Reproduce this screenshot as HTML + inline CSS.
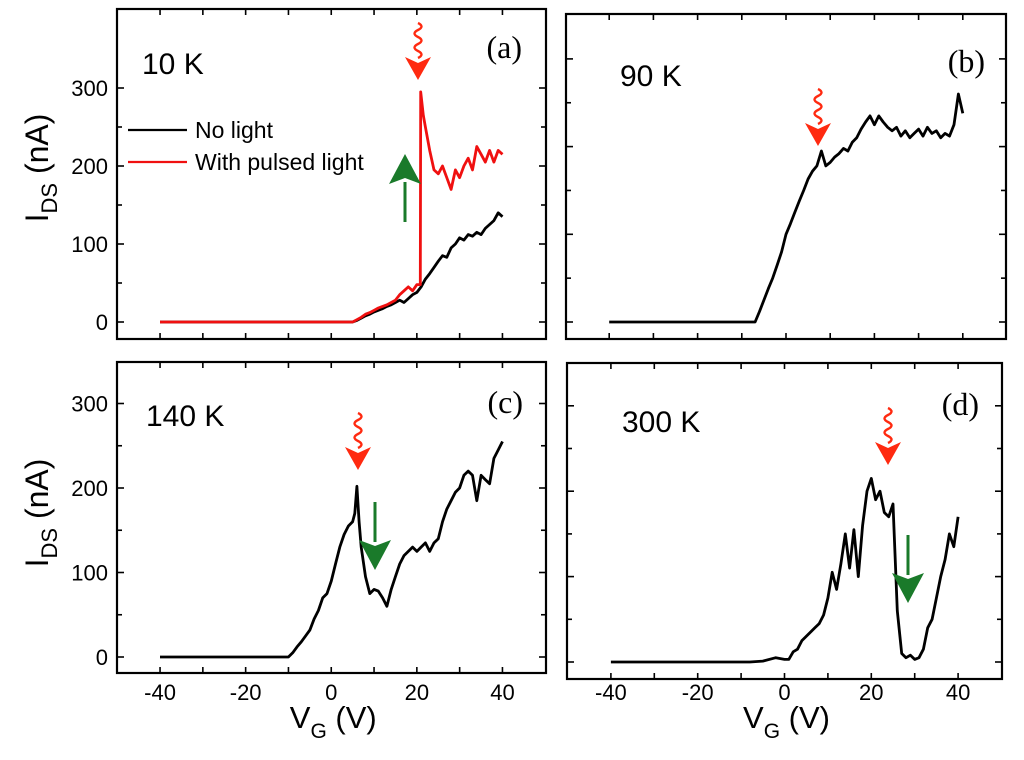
<!DOCTYPE html>
<html><head><meta charset="utf-8"><title>IDS vs VG</title>
<style>
html,body{margin:0;padding:0;background:#fff;}
svg{display:block;font-family:"Liberation Sans",Arial,sans-serif;}
.serif{font-family:"Liberation Serif","Times New Roman",serif;}
</style></head>
<body>
<svg id="fig" width="1024" height="760" viewBox="0 0 1024 760" xmlns="http://www.w3.org/2000/svg"></svg>
<script>
// ---- data (VG in V, IDS in nA) ----
const aDarkV = [-40,5,6,7,8,9,10,11,12,13,14,15,16,17,18,19,20,21,22,23,24,25,26,27,28,29,30,31,32,33,34,35,36,37,38,39,40];
const aDarkI = [0,0,2,5,8,10,13,15,17,20,22,25,28,25,30,35,38,45,55,62,70,78,85,83,95,100,108,105,112,110,115,112,120,125,130,140,135];
const aLightV = [-40,5,6,7,8,9,10,11,12,13,14,15,16,17,18,19,20,20.8,20.9,21.5,22,23,24,25,26,27,28,29,30,31,32,33,34,35,36,37,38,39,40];
const aLightI = [0,0,3,6,10,12,15,18,20,22,25,28,35,40,45,40,48,48,295,265,250,220,195,190,200,185,170,195,185,200,210,195,225,215,205,220,205,220,215];
const bV = [-40,-7,-6,-5,-4,-3,-2,-1,0,1,2,3,4,5,6,7,8,9,10,11,12,13,14,15,16,17,18,19,20,21,22,23,24,25,26,27,28,29,30,31,32,33,34,35,36,37,38,39,40];
const bI = [0,0,12,25,38,50,65,80,100,112,125,138,150,163,172,178,195,178,182,188,192,198,195,205,210,220,228,235,225,235,228,222,218,222,212,218,210,215,220,212,222,215,218,210,215,212,225,260,238];
const cV = [-40,-10,-9,-8,-7,-6,-5,-4,-3,-2,-1,0,1,2,3,4,5,5.5,6,6.5,7,8,9,10,11,12,13,14,15,16,17,18,19,20,21,22,23,24,25,26,27,28,29,30,31,32,33,34,35,36,37,38,39,40];
const cI = [0,0,5,12,18,25,32,45,55,70,75,90,110,130,145,155,160,170,202,160,130,95,75,80,78,70,60,80,95,110,120,125,130,125,130,135,125,135,140,160,175,185,195,200,215,220,215,185,215,210,205,235,245,255];
const dV = [-40,-8,-5,-2,0,1,2,3,4,5,6,7,8,9,10,11,12,13,14,15,16,17,18,19,20,21,22,23,24,25,26,27,28,29,30,31,32,33,34,35,36,37,38,39,40];
const dI = [0,0,1,5,3,3,12,15,25,30,35,40,45,55,75,105,85,115,150,110,155,100,160,200,215,190,200,175,170,185,60,10,5,8,3,5,15,40,50,75,100,120,150,135,170];
const xTickVals = [-40,-30,-20,-10,0,10,20,30,40];
const xLabelVals = [-40,-20,0,20,40];
const yMajor = [0,100,200,300];
const yMinor = [50,150,250];

const NS = "http://www.w3.org/2000/svg";
const svg = document.getElementById('fig');
function mk(tag, attrs, parent){
  const e = document.createElementNS(NS, tag);
  for (const k in attrs) e.setAttribute(k, attrs[k]);
  (parent||svg).appendChild(e);
  return e;
}
const panels = [
  {id:'a', L:117, R:546, T:9,   B:339, x0:331.25, xs:4.28,  y0:322, ys:0.78,  ylab:true,  xlab:false},
  {id:'b', L:566, R:1006, T:14, B:339, x0:786,    xs:4.42,  y0:322, ys:0.877, ylab:false, xlab:false},
  {id:'c', L:117, R:546, T:362, B:673, x0:331.25, xs:4.28,  y0:657, ys:0.845, ylab:true,  xlab:true},
  {id:'d', L:567, R:1002, T:363, B:679, x0:784.5, xs:4.34,  y0:662, ys:0.854, ylab:false, xlab:true}
];
function X(p,v){ return p.x0 + v*p.xs; }
function Y(p,i){ return p.y0 - i*p.ys; }

panels.forEach(p=>{
  const g = mk('g',{});
  
  
  const fr = mk('rect',{x:p.L,y:p.T,width:p.R-p.L,height:p.B-p.T,fill:'none',stroke:'#000','stroke-width':2.2},g);
  
  
  xTickVals.forEach(v=>{
    const x = X(p,v);
    const t1 = mk('line',{x1:x,x2:x,y1:p.B,y2:p.B-6,stroke:'#000','stroke-width':1.6},g);
    
    
    const t2 = mk('line',{x1:x,x2:x,y1:p.T,y2:p.T+6,stroke:'#000','stroke-width':1.6},g);
    
    
  });
  yMajor.concat(yMinor).forEach(i=>{
    const y = Y(p,i);
    if (y < p.T+2) return;
    const len = yMajor.includes(i) ? 7 : 5;
    const t1 = mk('line',{x1:p.L,x2:p.L+len,y1:y,y2:y,stroke:'#000','stroke-width':1.6},g);
    
    
    const t2 = mk('line',{x1:p.R,x2:p.R-len,y1:y,y2:y,stroke:'#000','stroke-width':1.6},g);
    
    
  });
  if (p.ylab){
    yMajor.forEach(i=>{
      const t = mk('text',{x:p.L-9,y:Y(p,i)+8,'text-anchor':'end','font-size':22},g);
      t.textContent = i;
      
      
    });
    const cy = (p.id==='a') ? 168 : 513;
    const yt = mk('text',{x:0,y:0,'text-anchor':'middle','font-size':32,transform:`translate(48,${cy}) rotate(-90)`},g);
    
    
    yt.innerHTML = 'I<tspan font-size="22" dy="9">DS</tspan><tspan dy="-9"> (nA)</tspan>';
  }
  if (p.xlab){
    xLabelVals.forEach(v=>{
      const t = mk('text',{x:X(p,v),y:700,'text-anchor':'middle','font-size':22},g);
      t.textContent = v;
      
      
    });
    const xt = mk('text',{x:X(p,0)+2,y:728,'text-anchor':'middle','font-size':31},g);
    
    
    xt.innerHTML = 'V<tspan font-size="21" dy="10">G</tspan><tspan dy="-10"> (V)</tspan>';
  }
});

function curve(p, vs, is, color, name){
  const d = vs.map((v,k)=>(k?'L':'M')+X(p,v).toFixed(1)+','+Y(p,is[k]).toFixed(1)).join(' ');
  const path = mk('path',{d:d,fill:'none',stroke:color,'stroke-width':2.8,'stroke-linejoin':'round'});
  
  
}
curve(panels[0], aDarkV, aDarkI, '#000', 'series-no-light-10k');
curve(panels[0], aLightV, aLightI, '#f01010', 'series-pulsed-light-10k');
curve(panels[1], bV, bI, '#000', 'series-90k');
curve(panels[2], cV, cI, '#000', 'series-140k');
curve(panels[3], dV, dI, '#000', 'series-300k');

function redArrow(x, y0, name){
  const g = mk('g',{});
  
  
  let d = `M${x},${y0}`;
  for (let k=0;k<5;k++){ d += ` q${k%2?-7:7},3.5 0,7`; }
  mk('path',{d:d,fill:'none',stroke:'#ff2a10','stroke-width':2.4},g);
  mk('path',{d:`M${x-13},${y0+34} L${x},${y0+57} L${x+13},${y0+34} L${x},${y0+40} Z`,fill:'#ff2a10'},g);
}
function greenArrow(x, yTail, yTip, name){
  const g = mk('g',{});
  
  
  const dir = yTip < yTail ? -1 : 1;
  const hb = yTip - dir*28;
  mk('line',{x1:x,x2:x,y1:yTail,y2:hb,stroke:'#1a7a2a','stroke-width':3},g);
  mk('path',{d:`M${x-16},${hb-dir*2} L${x},${yTip} L${x+16},${hb-dir*2} L${x},${hb+dir*4} Z`,fill:'#1a7a2a'},g);
}
redArrow(418, 23, 'light-pulse-arrow-a');
redArrow(818, 89, 'light-pulse-arrow-b');
redArrow(358, 413, 'light-pulse-arrow-c');
redArrow(888, 408, 'light-pulse-arrow-d');
greenArrow(405, 222, 154, 'green-up-arrow-a');
greenArrow(375, 502, 570, 'green-down-arrow-c');
greenArrow(908, 535, 603, 'green-down-arrow-d');

function txt(x,y,s,size,cls,name,anchor){
  const t = mk('text',{x:x,y:y,'font-size':size,'text-anchor':anchor||'start'});
  if (cls) t.setAttribute('class',cls);
  t.textContent = s;
  
  
}
txt(142,74,'10 K',30,'','temperature-label-a');
txt(620,86,'90 K',30,'','temperature-label-b');
txt(146,426,'140 K',30,'','temperature-label-c');
txt(622,432,'300 K',30,'','temperature-label-d');
txt(522,58,'(a)',32,'serif','panel-label-a','end');
txt(985,72,'(b)',32,'serif','panel-label-b','end');
txt(523,413,'(c)',32,'serif','panel-label-c','end');
txt(979,415,'(d)',32,'serif','panel-label-d','end');

const lg = mk('g',{});


const l1 = mk('line',{x1:128,x2:187,y1:130,y2:130,stroke:'#000','stroke-width':2.2},lg);


const l2 = mk('line',{x1:128,x2:187,y1:162,y2:162,stroke:'#f01010','stroke-width':2.2},lg);


txt(195,138,'No light',23,'','legend-entry-no-light');
txt(195,170,'With pulsed light',23,'','legend-entry-pulsed-light');
</script>
</body></html>
